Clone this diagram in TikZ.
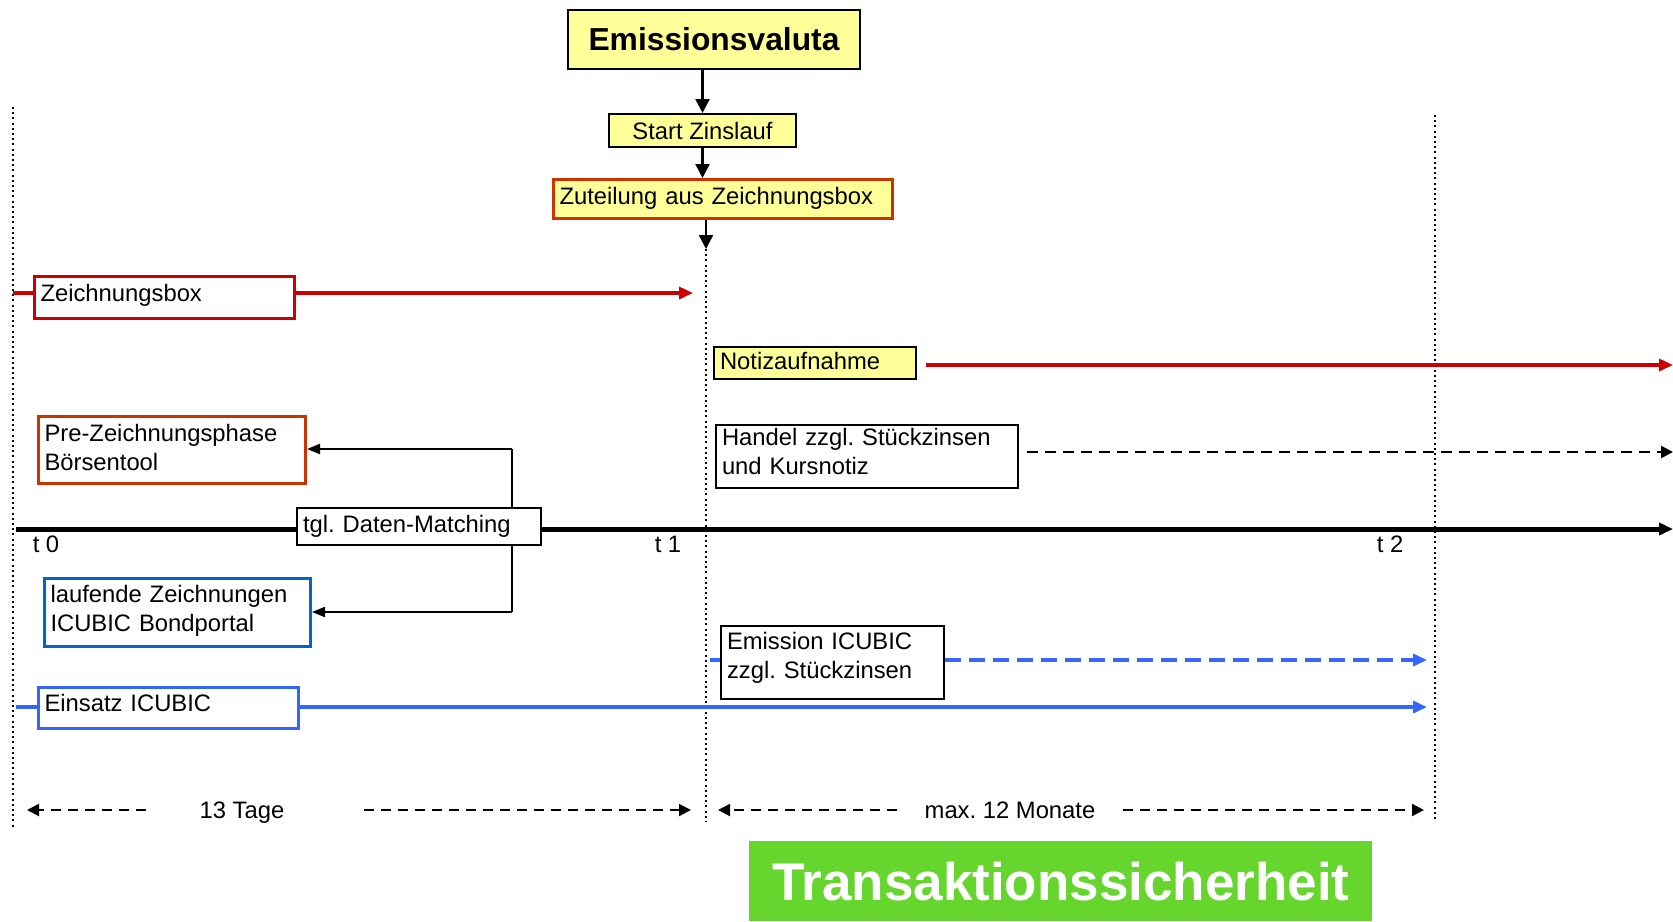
\documentclass[tikz,border=0pt]{standalone}
\usepackage{fontspec}
\setmainfont{Liberation Sans}
\frenchspacing
\usetikzlibrary{arrows.meta,calc}
\definecolor{myred}{RGB}{204,0,0}
\definecolor{myorange}{RGB}{204,51,0}
\definecolor{myblue}{RGB}{51,102,255}
\definecolor{mydblue}{RGB}{0,102,204}
\definecolor{myyellow}{RGB}{255,255,153}
\definecolor{mygreen}{RGB}{102,214,46}
\begin{document}
\begin{tikzpicture}[x=0.5pt,y=-0.5pt,
  fs/.style={font=\fontsize{11.9}{14.5}\selectfont\frenchspacing},
  box/.style={draw, line width=1pt, fill=white, rectangle, inner xsep=3pt, inner ysep=0pt, anchor=north west, align=left, fs, text height=8.5pt, text depth=0pt},
  cbox/.style={box, line width=1.5pt},
  dotline/.style={line width=1pt, dash pattern=on 1pt off 1.6pt},
  blackarrow/.style={line width=1.2pt, -{Triangle[length=7pt,width=7pt]}},
  thinarrow/.style={line width=1pt, -{Triangle[length=6.5pt,width=5pt]}},
  redline/.style={myred, line width=2pt},
  redarrow/.style={redline, -{Triangle[length=7pt,width=6pt]}},
  blueline/.style={myblue, line width=2pt},
  bluearrow/.style={blueline, -{Triangle[length=7pt,width=6pt]}},
  bluedash/.style={blueline, dash pattern=on 8pt off 4pt},
  bluedasharrow/.style={bluedash, -{Triangle[length=7pt,width=6pt]}},
  blackdash/.style={line width=1.2pt, dash pattern=on 5.5pt off 3.5pt, -{Triangle[length=6pt,width=6pt]}},
  dimarrow/.style={line width=1pt, dash pattern=on 5pt off 3.5pt, -{Triangle[length=6pt,width=6pt]}},
  axis/.style={line width=2.5pt, -{Triangle[length=7pt,width=6pt]}},
  lbl/.style={fs, inner sep=0pt, text height=8.5pt, text depth=0pt}
]
\useasboundingbox (0,0) rectangle (1673,921);

% time axis
\coordinate (a0) at (16,529);
\coordinate (a1) at (1673,529);
\draw[axis] (a0) -- (a1);

% dotted verticals
\coordinate (lt) at (13,107);
\coordinate (lb) at (13,827);
\coordinate (mt) at (706,249);
\coordinate (mb) at (706,822);
\coordinate (rt) at (1435,115);
\coordinate (rb) at (1435,822);
\draw[dotline] (lt) -- (lb);
\draw[dotline] (mt) -- (mb);
\draw[dotline] (rt) -- (rb);

% top boxes
\node[box, fill=myyellow, minimum width=146pt, minimum height=29.5pt, align=center, anchor=center,
      text height=11.4pt, font=\bfseries\fontsize{15.9}{19}\selectfont] (emis) at (714,39.5) {Emissionsvaluta};
\node[box, fill=myyellow, minimum width=93.5pt, minimum height=16.5pt, align=center, anchor=center] (start) at (702.5,130.5) {Start Zinslauf};
\node[cbox, draw=myorange, fill=myyellow, minimum width=169.5pt, text width=163.5pt, minimum height=19.5pt, text depth=3.2pt] (zut) at (552,178) {Zuteilung aus Zeichnungsbox};

\draw[blackarrow] (emis.south -| start.north) -- (start.north);
\draw[blackarrow] (start.south) -- (start.south |- zut.north);
\draw[blackarrow] (zut.south -| mt) -- (mt);

% Zeichnungsbox
\node[cbox, draw=myred, minimum width=130pt, text width=124pt, minimum height=21pt, text depth=4.5pt] (zbox) at (33,275) {Zeichnungsbox};
\coordinate (zl) at (13,293);
\coordinate (zr) at (693,293);
\draw[redline] (zl) -- (zl -| zbox.west);
\draw[redarrow] (zr -| zbox.east) -- (zr);

% Notizaufnahme
\node[box, fill=myyellow, minimum width=101pt, text width=95pt, minimum height=16pt, text depth=2pt] (notiz) at (713,346) {Notizaufnahme};
\coordinate (ns) at (926,365);
\coordinate (ne) at (1673,365);
\draw[redarrow] (ns) -- (ne);

% Handel
\node[box, minimum width=151pt, text width=145pt, minimum height=31.5pt, text depth=20pt] (handel) at (715,424) {Handel zzgl. Stückzinsen\\und Kursnotiz};
\coordinate (hs) at (1027,452);
\coordinate (he) at (1673,452);
\draw[blackdash] (hs) -- (he);

% Pre-Zeichnungsphase, matching, laufende
\node[cbox, draw=myorange, minimum width=133.5pt, text width=127.5pt, minimum height=33.5pt, text depth=17pt] (pre) at (37,415) {Pre-Zeichnungsphase\\Börsentool};
\node[box, minimum width=122pt, text width=116pt, minimum height=18.5pt, text depth=3pt] (tgl) at (296,507) {tgl. Daten-Matching};
\node[cbox, draw=mydblue, minimum width=133pt, text width=127pt, minimum height=34pt, text depth=18.5pt] (lauf) at (43,577) {laufende Zeichnungen\\ICUBIC Bondportal};
\coordinate (c1) at (512,449);
\coordinate (c2) at (512,612);
\draw[line width=1pt] (tgl.north -| c1) -- (c1);
\draw[line width=1pt] (tgl.south -| c2) -- (c2);
\draw[thinarrow] (c1) -- (c1 -| pre.east);
\draw[thinarrow] (c2) -- (c2 -| lauf.east);

% t labels
\node[lbl] (t0) at (46,544) {t 0};
\node[lbl] (t1) at (668,544) {t 1};
\node[lbl] (t2) at (1390,544) {t 2};

% Emission ICUBIC
\node[box, minimum width=111.5pt, text width=105.5pt, minimum height=36.5pt, text depth=22pt] (emicu) at (720,625) {Emission ICUBIC\\zzgl. Stückzinsen};
\coordinate (bs) at (710,660);
\coordinate (be) at (1427,660);
\draw[bluedash] (bs) -- (bs -| emicu.west);
\draw[bluedasharrow] (be -| emicu.east) -- (be);

% Einsatz ICUBIC
\node[cbox, draw=myblue, minimum width=130pt, text width=124pt, minimum height=20.5pt, text depth=5pt] (einsatz) at (37,686) {Einsatz ICUBIC};
\coordinate (es) at (16,707);
\coordinate (ee) at (1427,707);
\draw[blueline] (es) -- (es -| einsatz.west);
\draw[bluearrow] (ee -| einsatz.east) -- (ee);

% durations
\node[lbl] (tage) at (242,810) {13 Tage};
\coordinate (d1a) at (27,810);
\coordinate (d1b) at (146,810);
\coordinate (d1c) at (364,810);
\coordinate (d1d) at (691,810);
\draw[dimarrow] (d1b) -- (d1a);
\draw[dimarrow] (d1c) -- (d1d);

\node[lbl] (monate) at (1010,810) {max. 12 Monate};
\coordinate (d2a) at (718,810);
\coordinate (d2b) at (897,810);
\coordinate (d2c) at (1123,810);
\coordinate (d2d) at (1424,810);
\draw[dimarrow] (d2b) -- (d2a);
\draw[dimarrow] (d2c) -- (d2d);

% Transaktionssicherheit
\node[fill=mygreen, text=white, anchor=north west, minimum width=311.5pt, minimum height=40pt, inner sep=0pt,
      text height=19pt, text depth=0pt,
      font=\bfseries\fontsize{26.5}{30}\selectfont] (trans) at (749,841) {Transaktionssicherheit};
\end{tikzpicture}
\end{document}
